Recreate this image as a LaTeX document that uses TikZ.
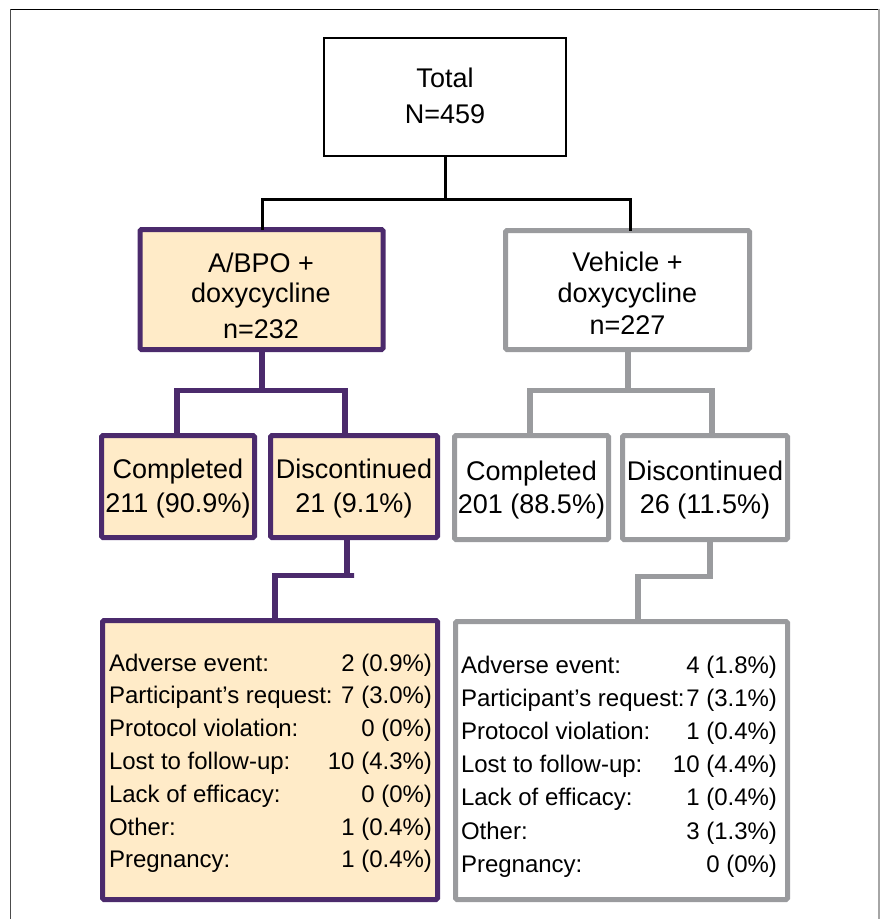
\documentclass[tikz,border=0pt]{standalone}
\usepackage{fontspec}
\setmainfont{Liberation Sans}
\definecolor{purp}{HTML}{4B2A6C}
\definecolor{cream}{HTML}{FFEBC8}
\definecolor{grayb}{HTML}{9A9B9E}
\newcommand{\bigtxt}{\fontsize{27}{32}\selectfont}
\newcommand{\smalltxt}{\fontsize{24}{33}\selectfont}
\newcommand{\rowlr}[2]{\leavevmode\rlap{#1}\hfill #2}
\begin{document}
\begin{tikzpicture}[x=1pt,y=-1pt,
  every node/.style={inner sep=0pt, outer sep=0pt},
  txt/.style={anchor=base, font=\bigtxt},
  tbl/.style={anchor=base west, font=\smalltxt},
  blackbox/.style={draw=black, line width=2pt, fill=white},
  purpbox/.style={draw=purp, line width=5pt, fill=cream, rounded corners=1.5pt},
  graybox/.style={draw=grayb, line width=5pt, fill=white, rounded corners=1.5pt},
  bline/.style={draw=black, line width=3pt},
  pline/.style={draw=purp, line width=5.5pt},
  gline/.style={draw=grayb, line width=5.5pt}]
\useasboundingbox (0,0) rectangle (880,919);
% outer frame
\draw[line width=1.4pt, draw=gray!60!black] (10.7,925) -- (10.7,9.3);
\draw[line width=1.4pt, draw=black] (10.7,9.3) -- (879,9.3);
\draw[line width=1.4pt, draw=gray!70] (879,9.3) -- (879,925);

% boxes
\node[blackbox, minimum width=242pt, minimum height=118pt] (tot) at (445,97) {};
\node[purpbox, minimum width=243pt, minimum height=120pt] (abpo) at (261.5,289.5) {};
\node[graybox, minimum width=244pt, minimum height=119pt] (veh) at (627.5,290) {};
\node[purpbox, minimum width=153pt, minimum height=102pt] (cl) at (178,486.5) {};
\node[purpbox, minimum width=167pt, minimum height=102pt] (dl) at (354,486.5) {};
\node[graybox, minimum width=154pt, minimum height=104pt] (cr) at (531.5,487.5) {};
\node[graybox, minimum width=165pt, minimum height=104pt] (dr) at (705,487.5) {};
\node[purpbox, minimum width=335pt, minimum height=279pt] (bl) at (270,760) {};
\node[graybox, minimum width=332pt, minimum height=278pt] (br) at (621.5,760.5) {};

% texts
\node[txt] (tot-t) at (445,87) {\begin{tabular}[t]{@{}c@{}}Total\\[4pt]N=459\end{tabular}};
\node[txt] (abpo-t) at (261,272) {\begin{tabular}[t]{@{}c@{}}A/BPO +\\[-2pt]doxycycline\\[4pt]n=232\end{tabular}};
\node[txt] (veh-t) at (627.5,271) {\begin{tabular}[t]{@{}c@{}}Vehicle +\\[-1pt]doxycycline\\n=227\end{tabular}};
\node[txt] (cl-t) at (178,478) {\begin{tabular}[t]{@{}c@{}}Completed\\[2pt]211 (90.9\%)\end{tabular}};
\node[txt] (dl-t) at (354,478) {\begin{tabular}[t]{@{}c@{}}Discontinued\\[2pt]21 (9.1\%)\end{tabular}};
\node[txt] (cr-t) at (531.5,480) {\begin{tabular}[t]{@{}c@{}}Completed\\[1pt]201 (88.5\%)\end{tabular}};
\node[txt] (dr-t) at (705,480) {\begin{tabular}[t]{@{}c@{}}Discontinued\\[1pt]26 (11.5\%)\end{tabular}};
\node[tbl] (bl-t) at (109,671) {%
  \begin{tabular}[t]{@{}p{323pt}@{}}
  \rowlr{Adverse event:}{2 (0.9\%)}\\[-0.2pt]
  \rowlr{Participant’s request:}{7 (3.0\%)}\\[-0.2pt]
  \rowlr{Protocol violation:}{0 (0\%)}\\[-0.2pt]
  \rowlr{Lost to follow-up:}{10 (4.3\%)}\\[-0.2pt]
  \rowlr{Lack of efficacy:}{0 (0\%)}\\[-0.2pt]
  \rowlr{Other:}{1 (0.4\%)}\\[-0.2pt]
  \rowlr{Pregnancy:}{1 (0.4\%)}
  \end{tabular}};
\node[tbl] (br-t) at (461,673) {%
  \begin{tabular}[t]{@{}p{316pt}@{}}
  \rowlr{Adverse event:}{4 (1.8\%)}\\[0.2pt]
  \rowlr{Participant’s request:}{7 (3.1\%)}\\[0.2pt]
  \rowlr{Protocol violation:}{1 (0.4\%)}\\[0.2pt]
  \rowlr{Lost to follow-up:}{10 (4.4\%)}\\[0.2pt]
  \rowlr{Lack of efficacy:}{1 (0.4\%)}\\[0.2pt]
  \rowlr{Other:}{3 (1.3\%)}\\[0.2pt]
  \rowlr{Pregnancy:}{0 (0\%)}
  \end{tabular}};

% connectors
\path (tot.south) -- ++(0,43) coordinate (jt);
\draw[bline] (tot.south) -- (jt);
\draw[bline] ([xshift=0.5pt]abpo.north) |- (jt) -| ([xshift=2.5pt]veh.north);

\path (abpo.south) ++(0,41) coordinate (ja);
\draw[pline] ([xshift=0.5pt]abpo.south) -- ([xshift=0.5pt]ja);
\draw[pline] ([xshift=-1pt]cl.north) |- (ja) -| ([xshift=-9pt]dl.north);

\path (veh.south) ++(0,41) coordinate (jv);
\draw[gline] ([xshift=0.5pt]veh.south) -- ([xshift=0.5pt]jv);
\draw[gline] ([xshift=-1.5pt]cr.north) |- (jv) -| ([xshift=7pt]dr.north);

\path (dl.south) ++(0,38) coordinate (jd);
\draw[pline] ([xshift=-7pt]dl.south) |- (jd) -| ([xshift=5pt]bl.north);

\path (dr.south) ++(0,37) coordinate (je);
\draw[gline] ([xshift=5pt]dr.south) |- (je) -| ([xshift=16.5pt]br.north);
\end{tikzpicture}
\end{document}
